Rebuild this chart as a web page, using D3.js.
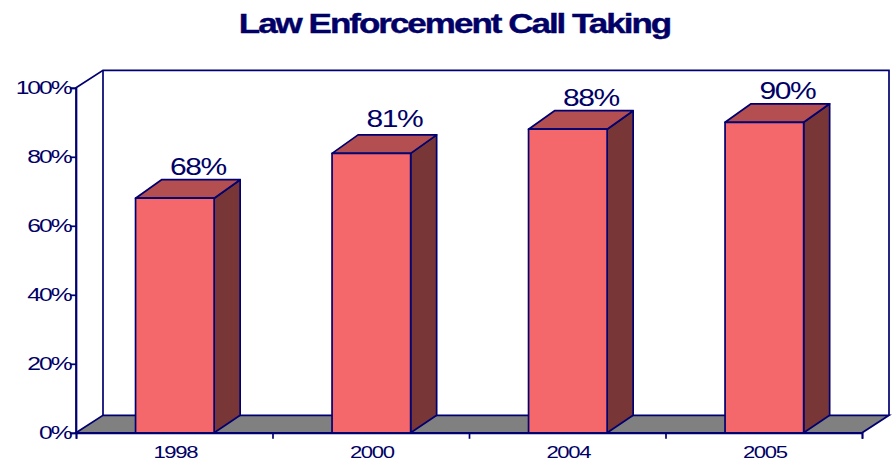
<!DOCTYPE html>
<html>
<head>
<meta charset="utf-8">
<script src="https://cdn.jsdelivr.net/npm/d3@7"></script>
<style>
  html, body { margin: 0; background: #fff; }
  svg { display: block; }
  text { font-family: "Liberation Sans", Arial, sans-serif; fill: #000066; }
</style>
</head>
<body>
<div id="chart"></div>
<script>
const chartTitle = "Law Enforcement Call Taking";
const years = ["1998", "2000", "2004", "2005"];
const percents = [68, 81, 88, 90];
const percentTicks = [0, 20, 40, 60, 80, 100];

const width = 892, height = 462;
const navy = "#000070";
const lineWidth = 1.7;
const frame = { left: 76, right: 862, top: 87.8, bottom: 432.8 };
const wallDepth = { dx: 27, dy: -17.5 };
const barDepth = { dx: 26, dy: -18.5 };

const svg = d3.select("#chart").append("svg")
  .attr("width", width).attr("height", height);

const x = d3.scaleBand().domain(years)
  .range([frame.left + 0.6, frame.right + 0.6])
  .paddingInner(0.6).paddingOuter(0.3);
const y = d3.scaleLinear().domain([0, 100])
  .range([frame.bottom, frame.top]);

const points = pts => pts.map(p => p.join(",")).join(" ");

// Horizontally widened, tightly tracked lettering
const wideText = (sel, px, py, sx, tracking) => sel
  .attr("x", 0).attr("y", 0)
  .attr("transform", (d, i) => `translate(${px(d, i)},${py(d, i)}) scale(${sx},1)`)
  .style("letter-spacing", tracking + "px");

// Floor of the 3D box
svg.append("polygon")
  .attr("points", points([
    [frame.left, frame.bottom],
    [frame.left + wallDepth.dx, frame.bottom + wallDepth.dy],
    [frame.right + wallDepth.dx, frame.bottom + wallDepth.dy],
    [frame.right, frame.bottom]
  ]))
  .attr("fill", "#808080").attr("stroke", navy).attr("stroke-width", lineWidth);

// Back and side walls
svg.append("path")
  .attr("d", d3.line()([
    [frame.left, frame.bottom],
    [frame.left, frame.top],
    [frame.left + wallDepth.dx, frame.top + wallDepth.dy],
    [frame.right + wallDepth.dx, frame.top + wallDepth.dy],
    [frame.right + wallDepth.dx, frame.bottom + wallDepth.dy]
  ]))
  .attr("fill", "none").attr("stroke", navy).attr("stroke-width", lineWidth);
svg.append("line")
  .attr("x1", frame.left + wallDepth.dx).attr("x2", frame.left + wallDepth.dx)
  .attr("y1", frame.top + wallDepth.dy).attr("y2", frame.bottom + wallDepth.dy)
  .attr("stroke", navy).attr("stroke-width", lineWidth);

// Bars: side face, top face, front face
const bars = svg.append("g").selectAll("g")
  .data(years.map((year, i) => ({ year, value: percents[i] })))
  .join("g")
  .attr("stroke", navy).attr("stroke-width", lineWidth).attr("stroke-linejoin", "round");

bars.append("polygon")
  .attr("fill", "#783636")
  .attr("points", d => {
    const r = x(d.year) + x.bandwidth(), t = y(d.value), b = y(0);
    return points([[r, b], [r, t], [r + barDepth.dx, t + barDepth.dy], [r + barDepth.dx, b + wallDepth.dy]]);
  });
bars.append("polygon")
  .attr("fill", "#B34F50")
  .attr("points", d => {
    const l = x(d.year), r = l + x.bandwidth(), t = y(d.value);
    return points([[l, t], [l + barDepth.dx, t + barDepth.dy], [r + barDepth.dx, t + barDepth.dy], [r, t]]);
  });
bars.append("rect")
  .attr("fill", "#F4676B")
  .attr("x", d => x(d.year))
  .attr("y", d => y(d.value))
  .attr("width", x.bandwidth())
  .attr("height", d => y(0) - y(d.value));

// Value labels above each bar
bars.append("text")
  .attr("stroke", "none")
  .attr("text-anchor", "middle")
  .attr("font-size", 24)
  .text(d => d.value + "%")
  .call(wideText,
    d => x(d.year) + x.bandwidth() / 2 + 23,
    d => y(d.value) + barDepth.dy - 4.7 - (d.year === "2000" ? 3 : 0),
    1.25, -1.2);

// Axes
const yAxis = d3.axisLeft(y).tickValues(percentTicks)
  .tickFormat(d => d + "%").tickSize(6);
const gy = svg.append("g").attr("transform", `translate(${frame.left},0)`).call(yAxis);
gy.selectAll("text")
  .attr("font-size", 19).attr("font-family", null).attr("dy", null)
  .call(wideText, () => -5.5, () => 5.3, 1.3, -1.6);

const xTickScale = d3.scaleLinear().domain([0, years.length])
  .range([frame.left, frame.right]);
const xAxis = d3.axisBottom(xTickScale).tickValues(d3.range(years.length + 1))
  .tickFormat("").tickSize(6);
svg.append("g").attr("transform", `translate(0,${frame.bottom})`).call(xAxis);

svg.selectAll(".domain, .tick line")
  .attr("stroke", navy).attr("stroke-width", lineWidth);
svg.selectAll(".tick text").style("fill", "#000066");

svg.append("g").selectAll("text").data(years).join("text")
  .attr("text-anchor", "middle")
  .attr("font-size", 17)
  .text(d => d)
  .call(wideText, d => x(d) + x.bandwidth() / 2 + 0.5, () => 458, 1.3, -1);

// Title
svg.append("text")
  .attr("text-anchor", "middle")
  .attr("font-size", 28).attr("font-weight", "bold")
  .attr("stroke", "#000066").attr("stroke-width", 0.4)
  .text(chartTitle)
  .call(wideText, () => 454.5, () => 33, 1.25, -1.6);
</script>
</body>
</html>
